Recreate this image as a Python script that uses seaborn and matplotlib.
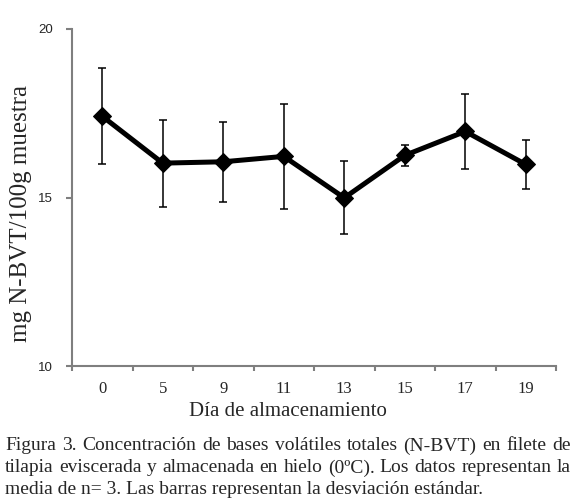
import numpy as np
import pandas as pd
import matplotlib
matplotlib.use("Agg")
import matplotlib.pyplot as plt
import seaborn as sns

# Data
days = ["0", "5", "9", "11", "13", "15", "17", "19"]
nbvt_mean = [17.41, 16.02, 16.06, 16.22, 14.99, 16.25, 16.96, 15.98]
nbvt_sd = [1.43, 1.29, 1.18, 1.56, 1.08, 0.31, 1.10, 0.73]

caption_lines = [
    "Figura 3. Concentración de bases volátiles totales (N-BVT) en filete de",
    "tilapia eviscerada y almacenada en hielo (0ºC). Los datos representan la",
    "media de n= 3. Las barras representan la desviación estándar.",
]

df = pd.DataFrame({"dia": days, "media": nbvt_mean, "sd": nbvt_sd})

sns.set_style("white")
plt.rcParams["font.family"] = ["Liberation Serif", "DejaVu Serif"]

fig = plt.figure(figsize=(5.78, 4.99), dpi=100)
ax = fig.add_axes([0.1246, 0.2665, 0.8374, 0.6754])

# error bars first, line on top
ax.errorbar(df["dia"], df["media"], yerr=df["sd"], fmt="none",
            ecolor="black", elinewidth=1.1, capsize=3, capthick=1.1, zorder=2)
sns.lineplot(data=df, x="dia", y="media", ax=ax, color="black", linewidth=3.6,
             marker="D", markersize=9, markeredgecolor="black", zorder=3,
             sort=False)

ax.set_xlim(-0.5, len(days) - 0.5)
ax.set_ylim(10, 20)
ax.set_yticks([10, 15, 20])

# Excel-style category ticks on the boundaries
ax.set_xticks(np.arange(len(days) + 1) - 0.5, minor=True)
ax.tick_params(axis="x", which="major", length=0, pad=11, labelsize=12)
ax.tick_params(axis="x", which="minor", length=3.5, width=1.5, color="#7f7f7f",
               direction="out", bottom=True)
ax.tick_params(axis="y", which="major", length=4, width=1.5, color="#7f7f7f",
               direction="out", left=True, labelsize=9.5, pad=10)
for lab in ax.get_yticklabels():
    lab.set_fontfamily(["Liberation Sans", "DejaVu Sans"])

for side in ["top", "right"]:
    ax.spines[side].set_visible(False)
for side in ["left", "bottom"]:
    ax.spines[side].set_color("#7f7f7f")
    ax.spines[side].set_linewidth(1.5)

ax.set_xlabel("Día de almacenamiento", fontsize=15)
ax.set_ylabel("mg N-BVT/100g muestra", fontsize=18)
ax.xaxis.set_label_coords(0.446, -0.108)
ax.yaxis.set_label_coords(-0.083, 0.454)

# justified caption
fig.canvas.draw()
renderer = fig.canvas.get_renderer()
x0, x1 = 5 / 578, 571 / 578
ys = [1 - 446 / 499, 1 - 468 / 499, 1 - 489 / 499]
for i, (line, yy) in enumerate(zip(caption_lines, ys)):
    if i == len(caption_lines) - 1:
        fig.text(x0, yy, line, fontsize=14, va="center", ha="left")
        continue
    words = line.split(" ")
    texts = [fig.text(0, yy, w, fontsize=14, va="center", ha="left") for w in words]
    widths = [t.get_window_extent(renderer).width / fig.bbox.width for t in texts]
    gap = (x1 - x0 - sum(widths)) / (len(words) - 1)
    pos = x0
    for t, w in zip(texts, widths):
        t.set_x(pos)
        pos += w + gap

fig.savefig("out.png", dpi=100)
